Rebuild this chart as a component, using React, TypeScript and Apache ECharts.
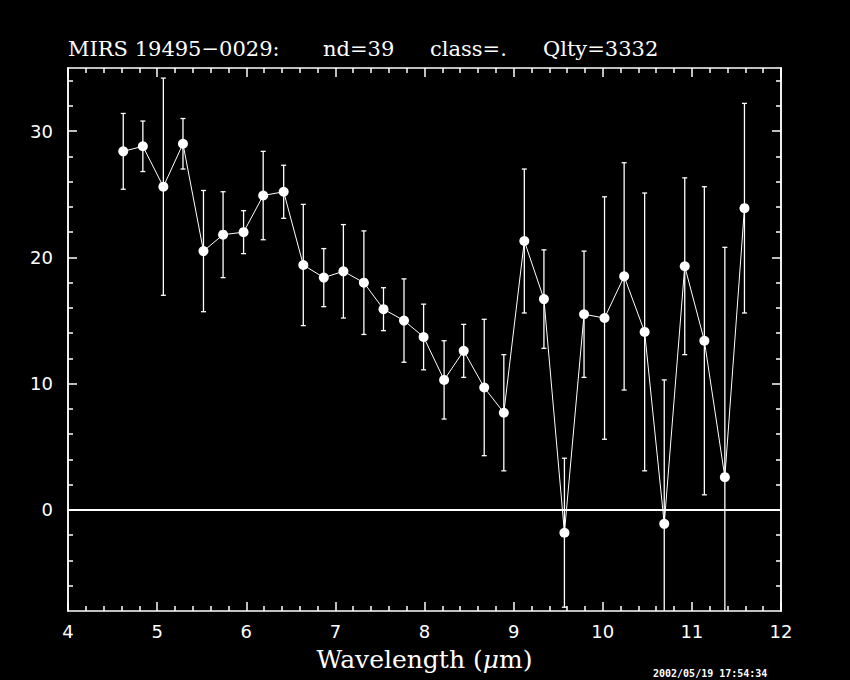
import React, { useEffect, useRef } from "react";
import * as echarts from "echarts";

const wavelengths = [4.62, 4.84, 5.07, 5.29, 5.52, 5.74, 5.97, 6.19, 6.42, 6.64, 6.87, 7.09, 7.32, 7.54, 7.77, 7.99, 8.22, 8.44, 8.67, 8.89, 9.12, 9.34, 9.57, 9.79, 10.02, 10.24, 10.47, 10.69, 10.92, 11.14, 11.37, 11.59];
const fluxes = [28.4, 28.8, 25.6, 29.0, 20.5, 21.8, 22.0, 24.9, 25.2, 19.4, 18.4, 18.9, 18.0, 15.9, 15.0, 13.7, 10.3, 12.6, 9.7, 7.7, 21.3, 16.7, -1.8, 15.5, 15.2, 18.5, 14.1, -1.1, 19.3, 13.4, 2.6, 23.9];
const errors = [3.0, 2.0, 8.6, 2.0, 4.8, 3.4, 1.7, 3.5, 2.1, 4.8, 2.3, 3.7, 4.1, 1.7, 3.3, 2.6, 3.1, 2.1, 5.4, 4.6, 5.7, 3.9, 5.9, 5.0, 9.6, 9.0, 11.0, 11.4, 7.0, 12.2, 18.2, 8.3];

const yMajorTicks = [0, 10, 20, 30];
const yMinorTicks = [-6, -4, -2, 2, 4, 6, 8, 12, 14, 16, 18, 22, 24, 26, 28, 32, 34];
const titleParts = ["MIRS 19495\u22120029:", "nd=39", "class=.", "Qlty=3332"];
const timestamp = "2002/05/19 17:54:34";

const X_MIN = 4, X_MAX = 12, Y_MIN = -8, Y_MAX = 35;

export default function App() {
  const ref = useRef<HTMLDivElement>(null);
  useEffect(() => {
    if (!ref.current) return;
    const chart = echarts.init(ref.current, null, { renderer: "svg" });
    const white = "#ffffff";
    const lineData = wavelengths.map((w, i) => [w, fluxes[i]]);
    const errData = wavelengths.map((w, i) => [w, fluxes[i] - errors[i], fluxes[i] + errors[i]]);

    const baseX = {
      type: "value",
      min: X_MIN,
      max: X_MAX,
      interval: 1,
      splitLine: { show: false },
      axisLine: { show: true, onZero: false, lineStyle: { color: white, width: 1.5 } },
      axisTick: { show: true, inside: true, length: 9, lineStyle: { color: white, width: 1.5 } },
      minorTick: { show: true, splitNumber: 5, length: 5, lineStyle: { color: white, width: 1.5 } },
      minorSplitLine: { show: false },
    };
    const yAxisOf = (pos: string, ticks: number[], len: number, labels: boolean) => ({
      type: "value",
      position: pos,
      min: Y_MIN,
      max: Y_MAX,
      splitLine: { show: false },
      axisLine: { show: true, onZero: false, lineStyle: { color: white, width: 1.5 } },
      axisTick: { show: true, inside: true, length: len, customValues: ticks, lineStyle: { color: white, width: 1.5 } },
      axisLabel: labels
        ? { show: true, customValues: yMajorTicks, color: white, fontSize: 18, fontFamily: "DejaVu Sans", margin: 15 }
        : { show: false },
    });

    const option: any = {
      animation: false,
      backgroundColor: "#000000",
      grid: { left: 68, right: 69, top: 68, bottom: 69, containLabel: false, outerBoundsMode: "none" },
      xAxis: [
        {
          ...baseX,
          position: "bottom",
          axisLabel: { color: white, fontSize: 18, fontFamily: "DejaVu Sans", margin: 11 },
          name: "Wavelength ({i|\u03bc}m)",
          nameLocation: "middle",
          nameGap: 36,
          nameTextStyle: {
            color: white,
            fontSize: 25,
            fontFamily: "DejaVu Serif",
            rich: { i: { color: white, fontSize: 25, fontFamily: "DejaVu Serif", fontStyle: "italic" } },
          },
        },
        { ...baseX, position: "top", axisLabel: { show: false } },
      ],
      yAxis: [
        yAxisOf("left", yMajorTicks, 9, true),
        yAxisOf("left", yMinorTicks, 5, false),
        yAxisOf("right", yMajorTicks, 9, false),
        yAxisOf("right", yMinorTicks, 5, false),
      ],
      graphic: [
        ...titleParts.map((t, i) => ({
          type: "text",
          x: [68, 323, 430, 543][i],
          y: 49,
          style: { text: t, fill: white, font: "21px 'DejaVu Serif'", verticalAlign: "middle", textAlign: "left" },
        })),
        {
          type: "text",
          x: 653,
          y: 668,
          style: { text: timestamp, fill: white, font: "bold 10px 'DejaVu Sans Mono'", verticalAlign: "top" },
        },
      ],
      series: [
        {
          type: "custom",
          xAxisIndex: 0,
          yAxisIndex: 0,
          data: errData,
          z: 2,
          renderItem: (params: any, api: any) => {
            const cs = params.coordSys;
            const x = api.value(0);
            const pLo = api.coord([x, api.value(1)]);
            const pHi = api.coord([x, api.value(2)]);
            const top = cs.y, bottom = cs.y + cs.height;
            const yHi = Math.max(pHi[1], top);
            const yLo = Math.min(pLo[1], bottom);
            const style = { stroke: white, lineWidth: 1.3 };
            const children: any[] = [
              { type: "line", shape: { x1: pHi[0], y1: yHi, x2: pHi[0], y2: yLo }, style },
            ];
            const hw = 2.5;
            if (pHi[1] >= top) children.push({ type: "line", shape: { x1: pHi[0] - hw, y1: pHi[1], x2: pHi[0] + hw, y2: pHi[1] }, style });
            if (pLo[1] <= bottom) children.push({ type: "line", shape: { x1: pLo[0] - hw, y1: pLo[1], x2: pLo[0] + hw, y2: pLo[1] }, style });
            return { type: "group", children };
          },
        },
        {
          type: "line",
          xAxisIndex: 0,
          yAxisIndex: 0,
          data: lineData,
          z: 3,
          symbol: "circle",
          symbolSize: 10,
          showSymbol: true,
          lineStyle: { color: white, width: 1 },
          itemStyle: { color: white },
          markLine: {
            silent: true,
            symbol: "none",
            label: { show: false },
            lineStyle: { color: white, width: 2, type: "solid" },
            data: [{ yAxis: 0 }],
          },
        },
      ],
    };
    chart.setOption(option);
    return () => chart.dispose();
  }, []);
  return (
    <div
      ref={ref}
      style={{ position: "fixed", left: 0, top: 0, width: 850, height: 680, background: "#000" }}
    />
  );
}
